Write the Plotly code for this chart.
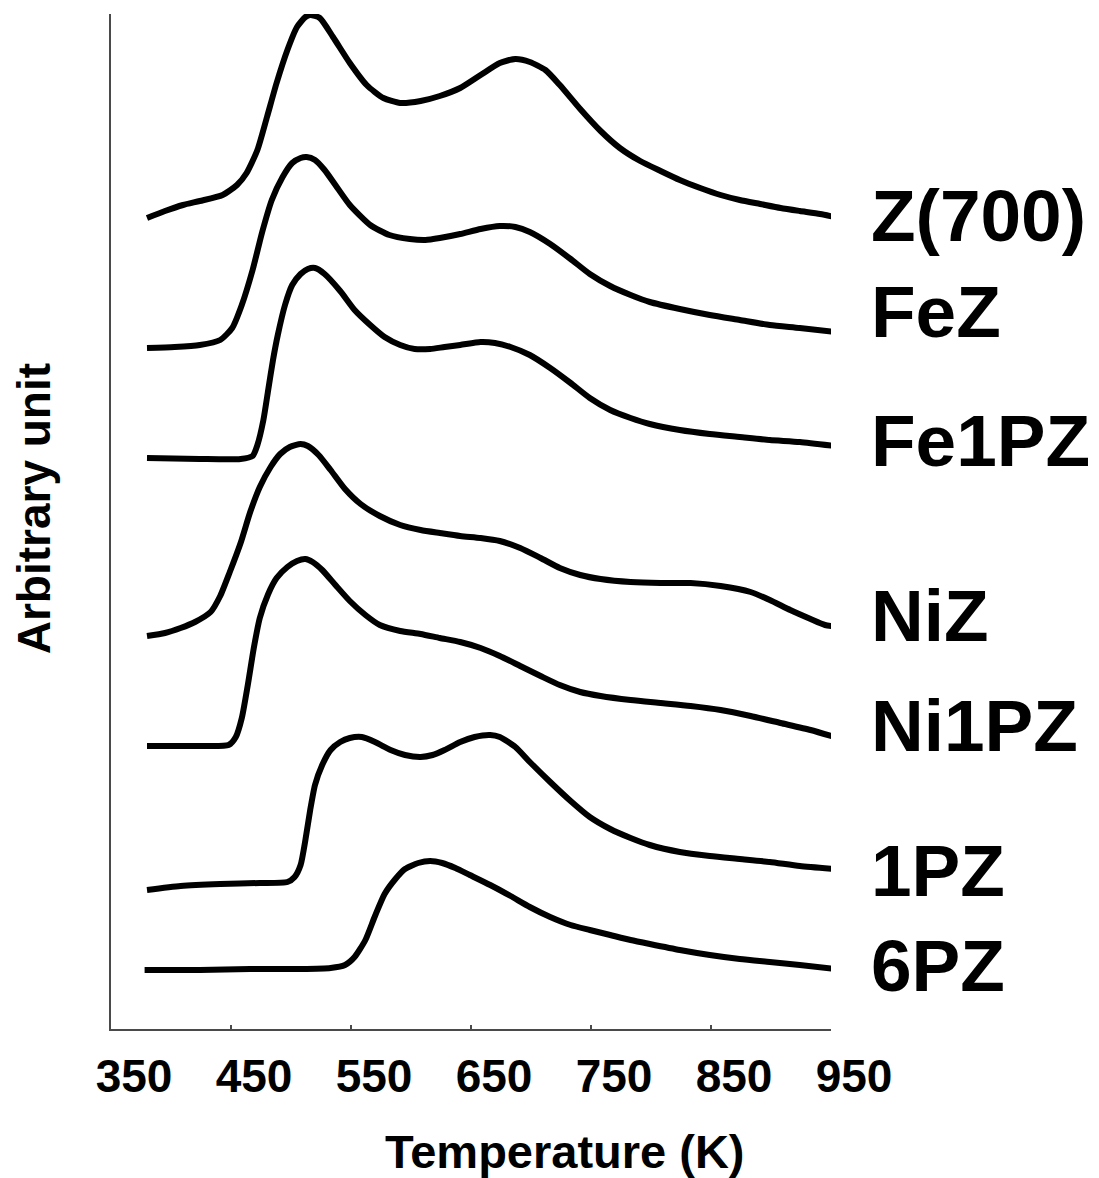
import plotly.graph_objects as go

# ---------------- data (temperature in K, signal in arbitrary units) ----------------
names = ["Z(700)", "FeZ", "Fe1PZ", "NiZ", "Ni1PZ", "1PZ", "6PZ"]

t_z700 = [380, 395, 410, 424, 443, 455, 463, 472, 480, 488, 497, 505, 512, 516, 524, 535, 549, 563, 577,
          591, 608, 624, 641, 658, 674, 687, 699, 712, 724, 741, 758, 774, 791, 808, 824, 841, 858, 874,
          891, 908, 924, 941, 953]
y_z700 = [8.11, 8.18, 8.24, 8.28, 8.34, 8.44, 8.56, 8.79, 9.12, 9.46, 9.79, 10.02, 10.12, 10.14, 10.11,
          9.92, 9.66, 9.44, 9.31, 9.26, 9.28, 9.33, 9.41, 9.54, 9.66, 9.70, 9.67, 9.59, 9.44, 9.20, 8.98,
          8.81, 8.68, 8.58, 8.49, 8.41, 8.34, 8.29, 8.25, 8.21, 8.18, 8.15, 8.12]

t_fez = [380, 403, 424, 441, 451, 459, 468, 476, 484, 493, 501, 508, 513, 520, 528, 537, 549, 566, 582,
         599, 612, 624, 641, 658, 674, 687, 699, 716, 733, 749, 766, 783, 799, 824, 849, 874, 899, 924, 953]
y_fez = [6.81, 6.82, 6.84, 6.89, 7.01, 7.24, 7.59, 7.97, 8.29, 8.52, 8.66, 8.71, 8.72, 8.69, 8.59, 8.44,
         8.24, 8.04, 7.94, 7.90, 7.89, 7.91, 7.95, 8.00, 8.03, 8.02, 7.97, 7.85, 7.70, 7.55, 7.43, 7.34,
         7.27, 7.20, 7.14, 7.09, 7.04, 7.01, 6.97]

t_fe1pz = [380, 424, 458, 468, 472, 477, 481, 485, 489, 495, 501, 508, 514, 520, 528, 541, 553, 566, 578,
           591, 603, 616, 628, 641, 658, 670, 683, 699, 716, 733, 749, 766, 783, 799, 824, 849, 874, 899,
           924, 953]
y_fe1pz = [5.71, 5.70, 5.70, 5.73, 5.84, 6.09, 6.39, 6.69, 6.94, 7.24, 7.44, 7.55, 7.60, 7.61, 7.55, 7.38,
           7.19, 7.04, 6.92, 6.84, 6.80, 6.80, 6.82, 6.84, 6.87, 6.86, 6.82, 6.74, 6.61, 6.46, 6.31, 6.19,
           6.11, 6.05, 5.99, 5.95, 5.92, 5.89, 5.87, 5.83]

t_niz = [380, 395, 408, 420, 433, 441, 449, 458, 466, 474, 483, 491, 499, 508, 514, 523, 533, 545, 558,
         574, 591, 608, 624, 641, 658, 674, 691, 708, 724, 741, 758, 783, 808, 833, 858, 883, 899, 916,
         933, 945, 956]
y_niz = [3.93, 3.96, 4.01, 4.07, 4.17, 4.33, 4.57, 4.86, 5.17, 5.42, 5.62, 5.75, 5.82, 5.85, 5.83, 5.74,
         5.59, 5.40, 5.25, 5.13, 5.04, 4.99, 4.96, 4.93, 4.91, 4.88, 4.81, 4.71, 4.61, 4.54, 4.50, 4.47,
         4.46, 4.46, 4.43, 4.37, 4.29, 4.19, 4.10, 4.04, 4.02]

t_ni1pz = [380, 424, 448, 454, 459, 464, 469, 474, 481, 488, 497, 505, 512, 518, 526, 537, 549, 562, 574,
           591, 608, 624, 641, 658, 674, 691, 708, 724, 741, 758, 783, 808, 833, 858, 883, 908, 933, 953]
y_ni1pz = [2.83, 2.83, 2.84, 2.92, 3.11, 3.44, 3.81, 4.11, 4.35, 4.51, 4.62, 4.68, 4.70, 4.67, 4.59, 4.44,
           4.28, 4.14, 4.04, 3.98, 3.95, 3.91, 3.87, 3.81, 3.73, 3.63, 3.53, 3.44, 3.37, 3.33, 3.29, 3.26,
           3.23, 3.19, 3.13, 3.06, 2.99, 2.92]

t_1pz = [380, 408, 441, 474, 497, 503, 508, 512, 516, 520, 526, 533, 541, 549, 559, 570, 583, 595, 608,
         618, 628, 641, 653, 666, 674, 687, 699, 716, 733, 749, 766, 783, 799, 824, 849, 874, 899, 924, 953]
y_1pz = [1.39, 1.43, 1.45, 1.46, 1.47, 1.52, 1.64, 1.89, 2.19, 2.44, 2.64, 2.79, 2.87, 2.91, 2.92, 2.87,
         2.79, 2.74, 2.72, 2.74, 2.79, 2.87, 2.92, 2.94, 2.92, 2.82, 2.67, 2.47, 2.28, 2.12, 2.00, 1.91,
         1.84, 1.77, 1.73, 1.70, 1.67, 1.63, 1.60]

t_6pz = [378, 424, 466, 508, 533, 545, 553, 562, 570, 578, 587, 595, 606, 616, 626, 637, 649, 666, 683,
         699, 716, 733, 749, 766, 783, 799, 824, 849, 874, 899, 924, 953]
y_6pz = [0.59, 0.59, 0.60, 0.60, 0.61, 0.64, 0.72, 0.89, 1.13, 1.35, 1.50, 1.60, 1.66, 1.68, 1.66, 1.61,
         1.54, 1.44, 1.33, 1.22, 1.12, 1.04, 0.99, 0.94, 0.89, 0.85, 0.79, 0.74, 0.70, 0.67, 0.64, 0.60]

temps = [t_z700, t_fez, t_fe1pz, t_niz, t_ni1pz, t_1pz, t_6pz]
signals = [y_z700, y_fez, y_fe1pz, y_niz, y_ni1pz, y_1pz, y_6pz]

x_tick_labels = [350, 450, 550, 650, 750, 850, 950]
x_minor_ticks = [400, 500, 600, 700, 800, 900]

# ---------------- styling / layout ----------------
FONT = "Arial, 'Liberation Sans', 'DejaVu Sans', sans-serif"
AXIS_COLOR = "#4a4a4a"
label_yshift = [2, 21, 6, 12, 12, -1, 4]

fig = go.Figure()
for name, t, s in zip(names, temps, signals):
    fig.add_trace(go.Scatter(
        x=t, y=s, mode="lines", name=name,
        line=dict(color="black", width=6, shape="spline", smoothing=0.6),
        showlegend=False, hoverinfo="skip",
    ))

annotations = []
for name, t, s, dy in zip(names, temps, signals, label_yshift):
    annotations.append(dict(
        text=f"<b>{name}</b>", xref="paper", x=1, xanchor="left", xshift=38,
        yref="y", y=s[-1], yanchor="middle", yshift=dy, showarrow=False,
        font=dict(family=FONT, size=73, color="black"),
    ))

annotations.append(dict(
    text="<b>Arbitrary unit</b>", textangle=-90, xref="paper", x=0, xshift=-77,
    xanchor="center", yref="paper", y=0.512, yanchor="middle", showarrow=False,
    font=dict(family=FONT, size=46, color="black"),
))
annotations.append(dict(
    text="<b>Temperature (K)</b>", xref="paper", x=0.631, xanchor="center",
    yref="paper", y=0, yshift=-122, yanchor="middle", showarrow=False,
    font=dict(family=FONT, size=47, color="black"),
))

fig.update_layout(
    width=1099, height=1178,
    margin=dict(l=111, r=268, t=14, b=149),
    paper_bgcolor="white", plot_bgcolor="white",
    showlegend=False,
    xaxis=dict(
        range=[350, 950], showgrid=False, zeroline=False,
        showline=True, linecolor=AXIS_COLOR, linewidth=1.5,
        tickmode="array", tickvals=x_tick_labels, ticktext=[str(v) for v in x_tick_labels],
        ticks="inside", ticklen=4, tickwidth=1.5, tickcolor=AXIS_COLOR,
        ticklabelshift=23, ticklabelstandoff=6,
        tickfont=dict(family=FONT, size=46, color="black", weight="bold"),
    ),
    xaxis2=dict(
        range=[350, 950], overlaying="x", anchor="y", side="bottom",
        showgrid=False, zeroline=False, showline=False,
        tickmode="array", tickvals=x_minor_ticks, showticklabels=False,
        ticks="outside", ticklen=6, tickwidth=1.5, tickcolor=AXIS_COLOR,
    ),
    yaxis=dict(
        range=[0, 10.15], showgrid=False, zeroline=False,
        showline=True, linecolor=AXIS_COLOR, linewidth=1.5,
        ticks="", showticklabels=False,
    ),
    annotations=annotations,
)

fig.write_html("out.html")
